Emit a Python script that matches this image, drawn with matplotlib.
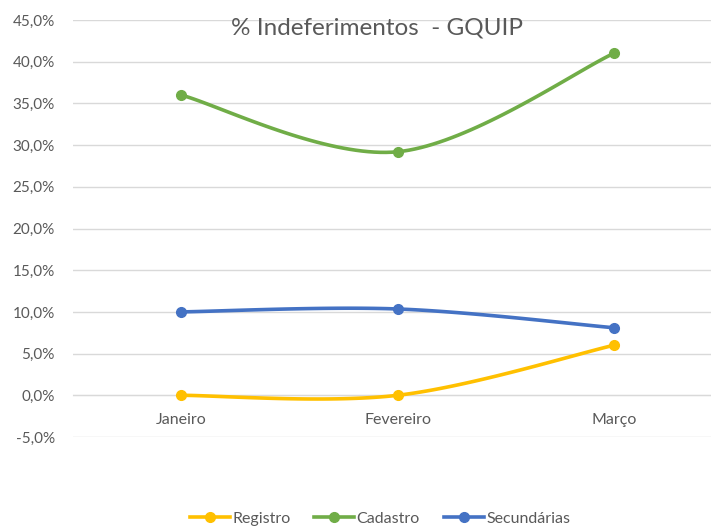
import numpy as np
import matplotlib
matplotlib.use('Agg')
import matplotlib.pyplot as plt
from matplotlib.ticker import FuncFormatter

months = ['Janeiro', 'Fevereiro', 'Março']
registro = [0.0, 0.0, 6.0]
cadastro = [36.0, 29.2, 41.0]
secundarias = [10.0, 10.35, 8.1]

series = [('Registro', registro, '#FFC000'),
          ('Cadastro', cadastro, '#70AD47'),
          ('Secundárias', secundarias, '#4472C4')]


def smooth(x, y, n=40):
    # excel-like smoothed line: catmull-rom as cubic bezier
    x = np.asarray(x, float)
    y = np.asarray(y, float)
    px = np.concatenate([[x[0]], x, [x[-1]]])
    py = np.concatenate([[y[0]], y, [y[-1]]])
    t = np.linspace(0, 1, n)[:, None]
    xs, ys = [], []
    for i in range(1, len(px) - 2):
        p0 = np.array([px[i], py[i]])
        p3 = np.array([px[i + 1], py[i + 1]])
        p1 = p0 + (np.array([px[i + 1], py[i + 1]]) - np.array([px[i - 1], py[i - 1]])) / 6
        p2 = p3 - (np.array([px[i + 2], py[i + 2]]) - np.array([px[i], py[i]])) / 6
        b = (1 - t) ** 3 * p0 + 3 * (1 - t) ** 2 * t * p1 + 3 * (1 - t) * t ** 2 * p2 + t ** 3 * p3
        xs.append(b[:, 0])
        ys.append(b[:, 1])
    return np.concatenate(xs), np.concatenate(ys)


plt.rcParams['font.family'] = ['Lato', 'DejaVu Sans']
txt = '#595959'

fig = plt.figure(figsize=(7.11, 5.28), dpi=100)
ax = fig.add_axes([73 / 711, 91 / 528, 649 / 711, 417 / 528])

x = np.arange(len(months))
for name, vals, col in series:
    sx, sy = smooth(x, vals)
    ax.plot(sx, sy, color=col, lw=2.6, solid_capstyle='round', zorder=3)
    ax.plot(x, vals, 'o', color=col, ms=7, zorder=4)
    ax.plot([], [], '-o', color=col, lw=2.6, ms=7, label=name)

ax.set_xlim(-0.5, 2.5)
ax.set_ylim(-5, 45)
ax.set_yticks(np.arange(-5, 46, 5))
ax.yaxis.set_major_formatter(FuncFormatter(lambda v, p: f'{v:.1f}%'.replace('.', ',')))
ax.set_xticks(x)
ax.set_xticklabels(months)
ax.grid(axis='y', color='#D9D9D9', lw=1)
ax.set_axisbelow(True)
for s in ['top', 'right', 'left']:
    ax.spines[s].set_visible(False)
ax.spines['bottom'].set_position(('data', 0))
ax.spines['bottom'].set_color('#D9D9D9')
ax.tick_params(axis='both', length=0, labelsize=11, labelcolor=txt)
ax.tick_params(axis='y', pad=13)
ax.tick_params(axis='x', pad=13, labelsize=11.5)

fig.text(377 / 711, 1 - 28 / 528, '% Indeferimentos  - GQUIP', ha='center', va='center',
         fontsize=17.5, color=txt)
fig.legend(loc='center', bbox_to_anchor=(380 / 711, 1 - 519 / 528), ncol=3, frameon=False,
           fontsize=11.5, labelcolor=txt, handlelength=2.5, handletextpad=0.15, columnspacing=1.5)

fig.savefig('out.png', dpi=100)
